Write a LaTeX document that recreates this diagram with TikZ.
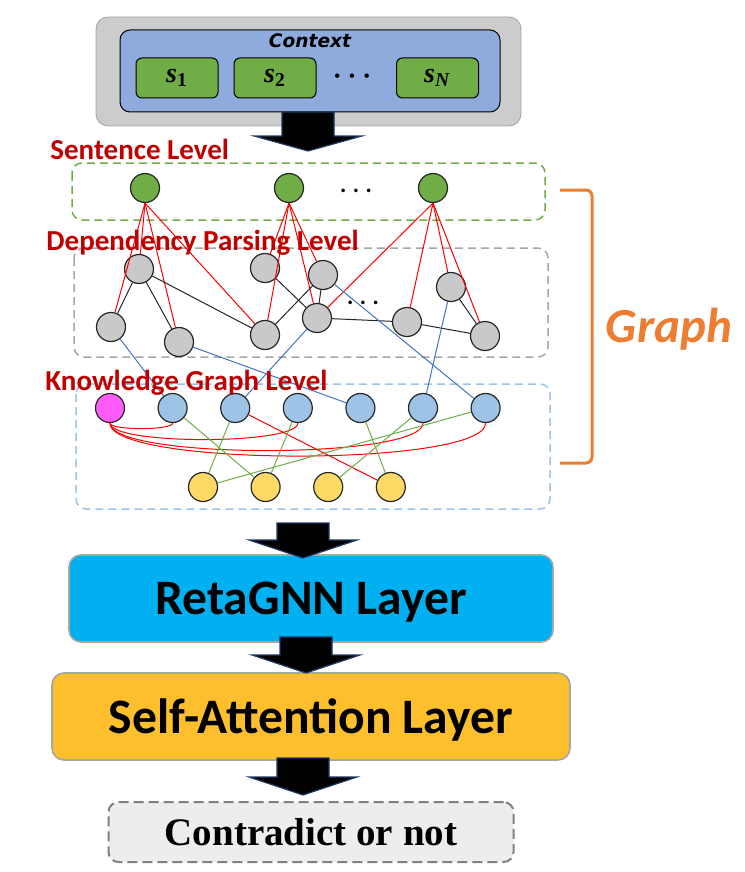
\documentclass[tikz,border=0pt]{standalone}
\usepackage{fontspec}
\newfontfamily\calibri{Carlito}
\newfontfamily\verdana{DejaVu Sans}
\newfontfamily\cambria{Liberation Serif}
\usetikzlibrary{positioning}

\definecolor{ctxgray}{HTML}{CCCCCC}
\definecolor{ctxblue}{HTML}{8FAADC}
\definecolor{sgreen}{HTML}{70AD47}
\definecolor{depgray}{HTML}{C9C9C9}
\definecolor{kgblue}{HTML}{9DC3E6}
\definecolor{entpink}{HTML}{FF5BF9}
\definecolor{conyellow}{HTML}{FFD966}
\definecolor{levelred}{HTML}{C00000}
\definecolor{linkblue}{HTML}{4472C4}
\definecolor{graphorange}{HTML}{ED7D31}
\definecolor{retablue}{HTML}{00B0F0}
\definecolor{attnorange}{HTML}{FDBF2C}
\definecolor{outgray}{HTML}{EDEDED}
\definecolor{arrowblue}{HTML}{203864}
\definecolor{boxgray}{HTML}{A6A6A6}

\begin{document}
\begin{tikzpicture}[x=0.5pt,y=-0.5pt,node distance=31.3pt]
    \tikzstyle{vertex}=[circle,draw=black!85,line width=0.6pt,minimum size=14.5pt,inner sep=0pt]
    \tikzstyle{sent}=[vertex,fill=sgreen]
    \tikzstyle{dep}=[vertex,fill=depgray]
    \tikzstyle{kg}=[vertex,fill=kgblue]
    \tikzstyle{ent}=[vertex,fill=entpink]
    \tikzstyle{con}=[vertex,fill=conyellow]
    \tikzstyle{sbox}=[draw=black,fill=sgreen,rounded corners=3pt,line width=0.5pt,minimum width=41pt,minimum height=20pt,font=\cambria\bfseries\fontsize{14}{14}\selectfont]
    \tikzstyle{levelbox}=[line width=0.75pt,dash pattern=on 4pt off 2.5pt,rounded corners=5pt]
    \tikzstyle{level}=[font=\calibri\bfseries\fontsize{14.5}{15}\selectfont,text=levelred,anchor=west,inner sep=0pt]
    \tikzstyle{dots}=[inner sep=0pt,font=\fontsize{6}{6}\selectfont]
    \tikzstyle{layer}=[draw=boxgray,line width=0.8pt,rounded corners=6pt,minimum height=43.5pt,text depth=0pt,font=\calibri\bfseries\fontsize{24.8}{26}\selectfont]
    \tikzstyle{outbox}=[draw=black!50,fill=outgray,line width=1pt,dash pattern=on 5pt off 2.5pt,rounded corners=5pt,minimum width=202.5pt,minimum height=30pt,text depth=0pt,font=\cambria\bfseries\fontsize{19.5}{20}\selectfont]
    \tikzstyle{fatarrow}=[fill=black,draw=arrowblue,line width=0.6pt]
    \tikzstyle{redline}=[red,line width=0.5pt]
    \tikzstyle{treeline}=[black!85,line width=0.5pt]
    \tikzstyle{linkline}=[linkblue,line width=0.5pt]
    \tikzstyle{kgline}=[sgreen,line width=0.5pt]

    \useasboundingbox (0,0) rectangle (744,872);

    \node[draw=ctxgray!80!black,fill=ctxgray,line width=0.4pt,rounded corners=6pt,minimum width=212.5pt,minimum height=54.5pt] (outer) at (308.5,71.5) {};
    \node[draw=black,fill=ctxblue,line width=0.5pt,rounded corners=5pt,minimum width=190pt,minimum height=41pt] (ctx) at (310,71) {};
    \node[anchor=north,inner sep=0pt,font=\verdana\bfseries\itshape\fontsize{9.3}{9}\selectfont] (ctxlbl) at (310,33) {Context};
    \node[sbox] (s1box) at (177,78) {\textit{s}\textsubscript{1}};
    \node[sbox] (s2box) at (275,78) {\textit{s}\textsubscript{2}};
    \node[sbox] (snbox) at (437.5,78) {\textit{s}\textsubscript{\textit{N}}};
    \node[dots,font=\fontsize{7.5}{8}\selectfont] (ctxdots) at (352,77) {\textbullet\hspace{1.2pt}\textbullet\hspace{1.2pt}\textbullet};

    \draw[levelbox,sgreen] (72,163) rectangle (545,220);
    \draw[levelbox,boxgray] (74,248) rectangle (548,357);
    \draw[levelbox,kgblue] (76,384) rectangle (550,509);

    \node[sent] (s1) at (145,188) {};
    \node[sent] (s2) [right of=s1,node distance=72pt] {};
    \node[sent] (s3) [right of=s2,node distance=72pt] {};
    \node[dots] (sdots) at (356,191) {\textbullet\hspace{0.8pt}\textbullet\hspace{0.8pt}\textbullet};

    \node[dep] (g1) at (139,269) {};
    \node[dep] (g2) at (111,327) {};
    \node[dep] (g3) at (179,342) {};
    \node[dep] (g4) at (265,335) {};
    \node[dep] (g5) at (265,268) {};
    \node[dep] (g6) at (323,275) {};
    \node[dep] (g7) at (317,318) {};
    \node[dep] (g8) at (407,322) {};
    \node[dep] (g9) at (451,287) {};
    \node[dep] (g10) at (485,336) {};
    \node[dots] (gdots) at (363,303) {\textbullet\hspace{0.8pt}\textbullet\hspace{0.8pt}\textbullet};

    \node[ent] (p) at (110,408) {};
    \node[kg] (b1) [right of=p] {};
    \node[kg] (b2) [right of=b1] {};
    \node[kg] (b3) [right of=b2] {};
    \node[kg] (b4) [right of=b3] {};
    \node[kg] (b5) [right of=b4] {};
    \node[kg] (b6) [right of=b5] {};

    \node[con] (y1) at (203,487) {};
    \node[con] (y2) [right of=y1] {};
    \node[con] (y3) [right of=y2] {};
    \node[con] (y4) [right of=y3] {};

    \path[redline]
    (s1.south) edge (g1)
    (s1.south) edge (g2)
    (s1.south) edge (g3)
    (s1.south) edge (g4)
    (s2.south) edge (g5)
    (s2.south) edge (g4)
    (s2.south) edge (g7)
    (s2.south) edge (g6)
    (s3.south) edge (g7)
    (s3.south) edge (g8)
    (s3.south) edge (g9)
    (s3.south) edge (g10);

    \path[treeline]
    (g1) edge (g2)
    (g1) edge (g3)
    (g1) edge (g4)
    (g5) edge (g7)
    (g4) edge (g6)
    (g6) edge (g7)
    (g7) edge (g8)
    (g8) edge (g10)
    (g9) edge (g10);

    \path[linkline]
    (g2) edge (b1)
    (g7) edge (b2)
    (g3) edge (b4)
    (g9) edge (b5)
    (g6) edge (b6);

    \path[redline]
    (p.south) edge[out=-90,in=-90,looseness=0.3] (b1.south)
    (p.south) edge[out=-90,in=-90,looseness=0.3] (b3.south)
    (p.south) edge[out=-90,in=-90,looseness=0.3] (b5.south)
    (p.south) edge[out=-90,in=-90,looseness=0.3] (b6.south)
    (b2) edge (y4);

    \path[kgline]
    (b1) edge (y2)
    (b2) edge (y1)
    (b3) edge (y2)
    (b4) edge (y4)
    (b5) edge (y3)
    (b6) edge (y1);

    \node[level] (sentlbl) at (50,149) {Sentence Level};
    \node[level] (deplbl) at (46,243) {Dependency Parsing Level};
    \node[level] (kglbl) at (45,383) {Knowledge Graph Level};

    \draw[graphorange,line width=1.5pt,rounded corners=3pt] (560,190) -- (592,190) -- (592,463) -- (560,463);
    \node[anchor=base,inner sep=0pt,text=graphorange,font=\calibri\bfseries\itshape\fontsize{24.5}{26}\selectfont] (graphlbl) at (669,342) {Graph};

    \node[layer,fill=retablue,minimum width=242pt] (reta) at (311,598.5) {RetaGNN Layer};
    \node[layer,fill=attnorange,minimum width=259pt] (attn) [below of=reta,node distance=59pt] {Self-Attention Layer};
    \node[outbox] (out) [below of=attn,node distance=57.75pt] {Contradict or not};

    \foreach \cx/\ya/\yb/\yc in {308/112/136/151, 303/523/540/558, 306/637/655/673, 303/758/777/795}
        \draw[fatarrow] (\cx-26,\ya) -- (\cx+26,\ya) -- (\cx+26,\yb) -- (\cx+54,\yb) -- (\cx,\yc) -- (\cx-54,\yb) -- (\cx-26,\yb) -- cycle;
\end{tikzpicture}
\end{document}
